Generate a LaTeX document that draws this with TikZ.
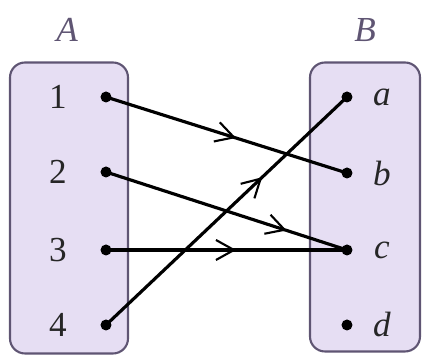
\documentclass[tikz,border=0pt]{standalone}
\usepackage{fontspec}
\setmainfont{Liberation Serif}
\usetikzlibrary{arrows.meta, decorations.markings}
\definecolor{setfill}{RGB}{230,222,243}
\definecolor{setedge}{RGB}{95,85,115}

\begin{document}
\begin{tikzpicture}[x=0.1mm, y=-0.1mm,
  font=\fontsize{10}{12}\selectfont,
  setbox/.style={draw=setedge, fill=setfill, line width=0.6pt,
                 rounded corners=1.5mm, inner sep=0pt},
  dot/.style={circle, fill=black, minimum size=1.1mm, inner sep=0pt},
  elt/.style={inner sep=0pt, text=black!85},
  setlbl/.style={inner sep=0pt, font=\fontsize{10}{12}\selectfont\itshape, text=setedge},
  arr/.style={line width=0.9pt, postaction={decorate},
    decoration={markings, mark=at position #1 with
      {\arrow{Straight Barb[length=1.8mm, width=2.0mm, line width=0.6pt]}}}},
]
\useasboundingbox (0,0) rectangle (423,361);

%% the two sets
\node[setbox, minimum width=11.8mm, minimum height=29.1mm] (boxA) at (69,208) {};
\node[setbox, minimum width=11.0mm, minimum height=28.9mm] (boxB) at (365,207) {};
\node[setlbl] (labA) at (67,30) {A};
\node[setlbl] (labB) at (365,30) {B};

%% elements
\foreach \n/\y in {1/97,2/172,3/250,4/325} {
  \node[dot] (p\n) at (106,\y) {};
  \node[elt] (n\n) at (58,\y) {\n};
}
\foreach \l/\y in {a/97,b/173,c/250,d/325} {
  \node[dot] (q\l) at (347,\y) {};
  \node[elt, font=\fontsize{10}{12}\selectfont\itshape] (l\l) at (382,\y) {\l};
}

%% the mapping
\draw[arr=0.54] (p1.center) -- (qb.center);
\draw[arr=0.75] (p2.center) -- (qc.center);
\draw[arr=0.54] (p3.center) -- (qc.center);
\draw[arr=0.65] (p4.center) -- (qa.center);
\end{tikzpicture}
\end{document}
